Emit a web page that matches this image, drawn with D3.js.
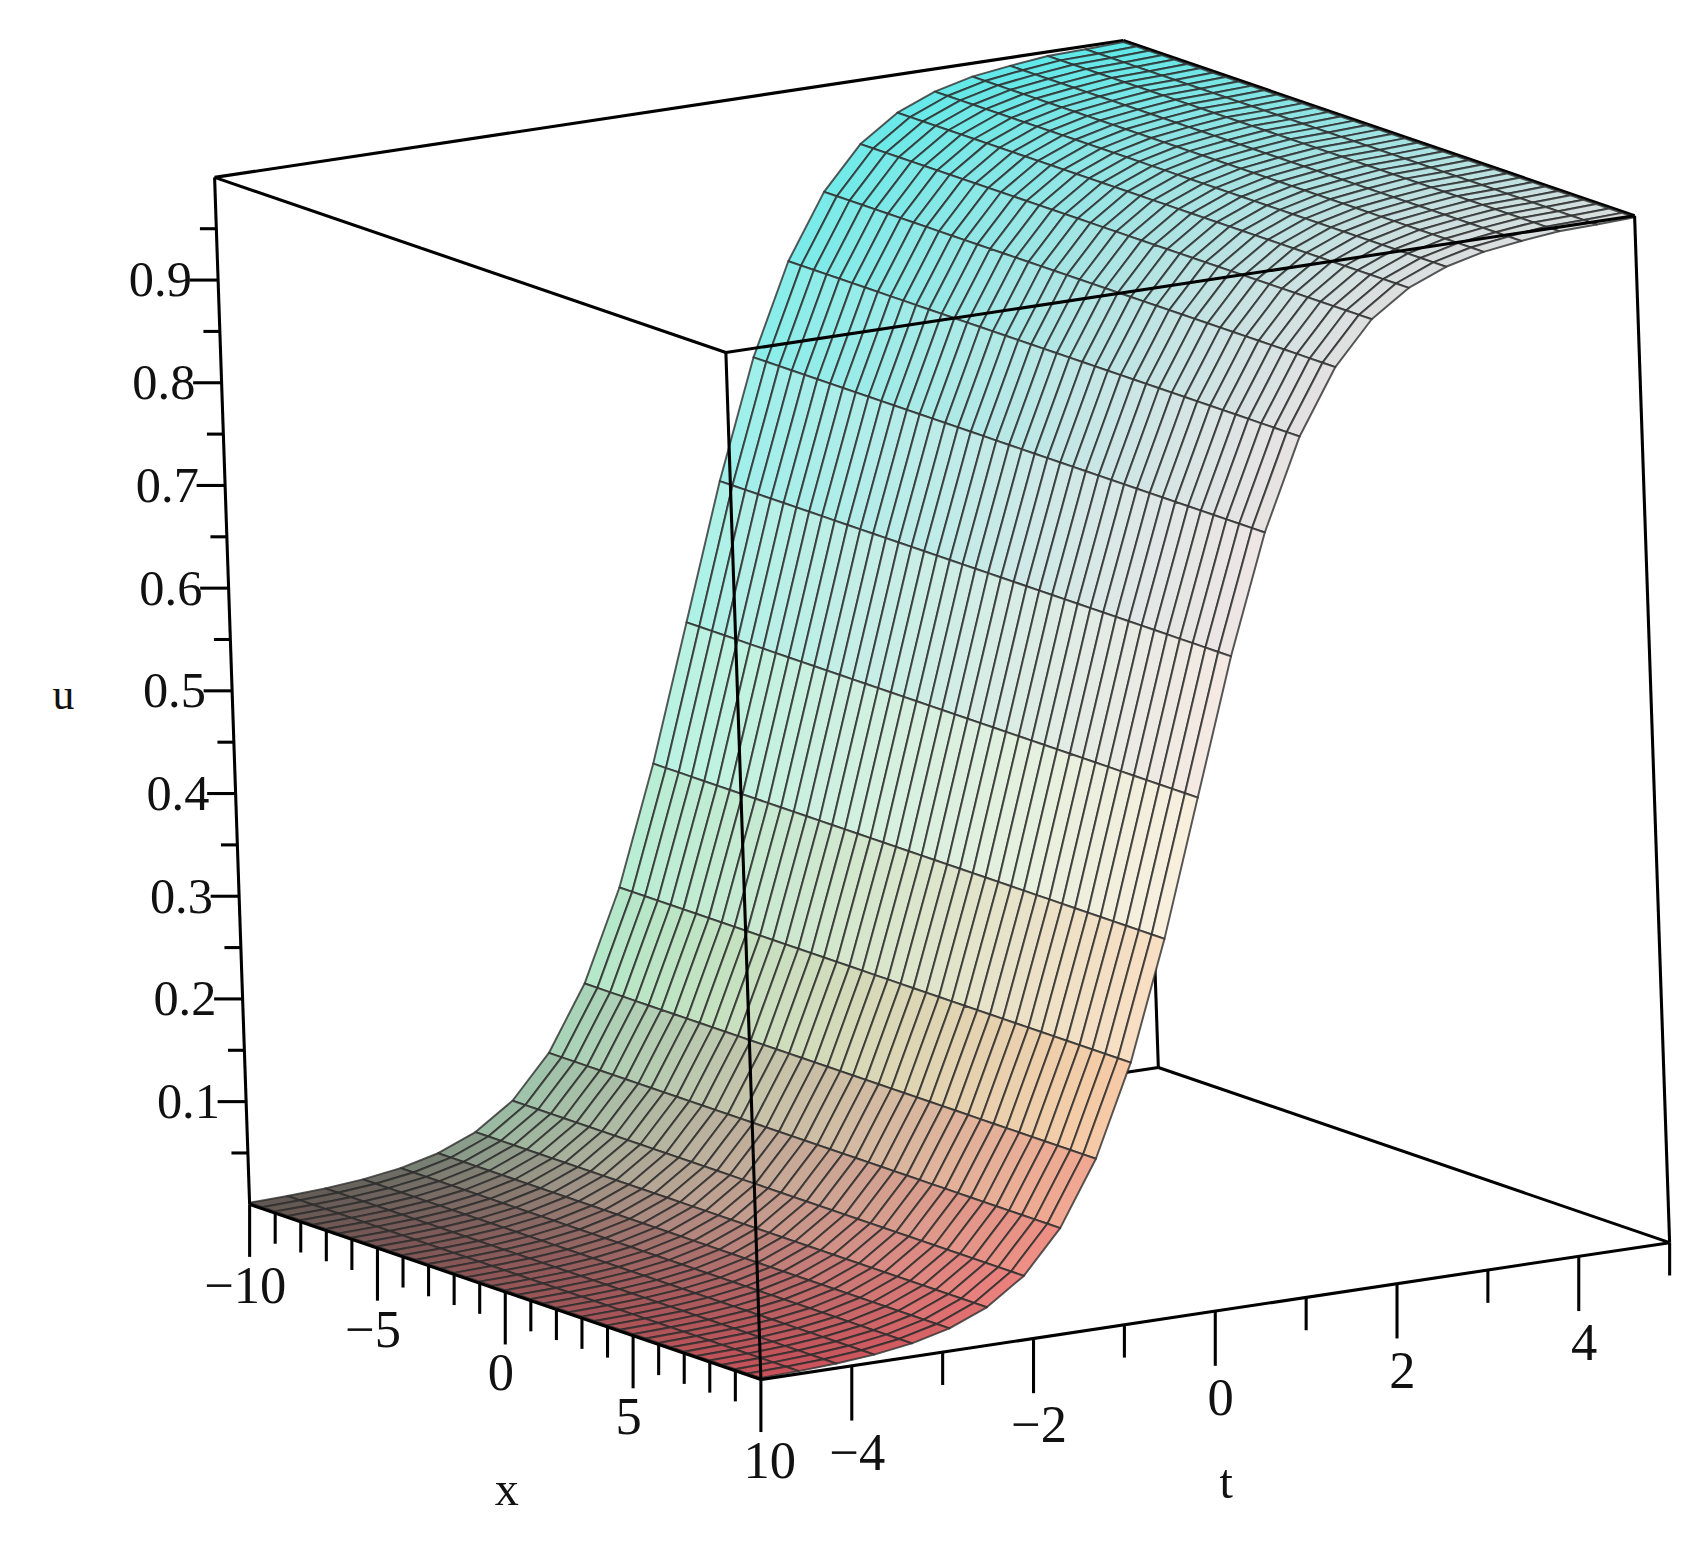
<!DOCTYPE html>
<html>
<head>
<meta charset="utf-8">
<script src="https://cdn.jsdelivr.net/npm/d3@7"></script>
<style>
  body { margin: 0; background: #fff; }
  text { font-family: "Liberation Serif", "DejaVu Serif", serif; fill: #111; }
</style>
</head>
<body>
<svg id="chart" width="1697" height="1544"></svg>
<script>
// Grid in x, levels in t, and u (u depends on t only).
var xRange = [-10, 10];
var xSteps = 40;
var tLevels = [-5, -4.583, -4.167, -3.75, -3.333, -2.917, -2.5, -2.083, -1.667, -1.25, -0.833, -0.417,
  0, 0.417, 0.833, 1.25, 1.667, 2.083, 2.5, 2.917, 3.333, 3.75, 4.167, 4.583, 5];
var uLevels = [0.0015, 0.0026, 0.0044, 0.0076, 0.013, 0.022, 0.037, 0.062, 0.103, 0.165, 0.253, 0.368,
  0.5, 0.632, 0.747, 0.835, 0.897, 0.938, 0.963, 0.978, 0.987, 0.992, 0.996, 0.997, 0.9985];

var uTicks = [0.1, 0.2, 0.3, 0.4, 0.5, 0.6, 0.7, 0.8, 0.9];
var uMinor = [0.05, 0.15, 0.25, 0.35, 0.45, 0.55, 0.65, 0.75, 0.85, 0.95];
var xTicks = [-10, -5, 0, 5, 10];
var tTicks = [-4, -2, 0, 2, 4];

var s = 1697 / 1550;
var svg = d3.select('#chart');
var g = svg.append('g').attr('transform', 'scale(' + s + ')');

// Linear scales for each axis, combined into an oblique projection.
var front = [695, 1260];
var sx = d3.scaleLinear().domain([10, -10]).range([0, 1]);
var st = d3.scaleLinear().domain([-5, 5]).range([0, 1]);
var su = d3.scaleLinear().domain([0, 1]).range([0, 1]);
var ex = [-467, -160], et = [830, -125], eu = [-32, -938];

function proj(x, t, u) {
  var a = sx(x), b = st(t), c = su(u);
  return [front[0] + a * ex[0] + b * et[0] + c * eu[0],
          front[1] + a * ex[1] + b * et[1] + c * eu[1]];
}

// Colour by position across x and height u.
function band(a, b) {
  return d3.scaleLinear().domain([-10, 10]).range([a, b]).interpolate(d3.interpolateRgb);
}
var bands = [
  band('#5e5450', '#c85058'),
  band('#98b8a0', '#ea7a78'),
  band('#b4e8c8', '#f8c8a4'),
  band('#bcf2e0', '#faf0dc'),
  band('#a6f0ea', '#f2e6e6'),
  band('#5ee8e8', '#dcdede')
];
var bandStops = [0, 0.04, 0.2, 0.4, 0.65, 1];
function colour(x, u) {
  var stops = bands.map(function(b) { return b(x); });
  return d3.scaleLinear().domain(bandStops).range(stops).interpolate(d3.interpolateRgb)(u);
}

var line = function(p, q) { return 'M' + p[0] + ',' + p[1] + 'L' + q[0] + ',' + q[1]; };

// Back box edges first.
var backEdges = [
  [proj(-10, 5, 0), proj(-10, 5, 1)],
  [proj(-10, 5, 0), proj(-10, -5, 0)],
  [proj(-10, 5, 0), proj(10, 5, 0)],
  [proj(-10, 5, 1), proj(-10, -5, 1)],
  [proj(-10, 5, 1), proj(10, 5, 1)]
];
g.selectAll('.back').data(backEdges).enter().append('path')
  .attr('d', function(d) { return line(d[0], d[1]); })
  .attr('stroke', '#000').attr('stroke-width', 2.8).attr('fill', 'none');

// Surface quads, far to near.
var quads = [];
var xs = d3.range(xSteps + 1).map(function(i) { return xRange[0] + i * (xRange[1] - xRange[0]) / xSteps; });
for (var j = 0; j < tLevels.length - 1; j++) {
  for (var i = 0; i < xSteps; i++) {
    quads.push({
      x0: xs[i], x1: xs[i + 1], j: j,
      depth: sx(xs[i] + 0.25) + st(tLevels[j])
    });
  }
}
quads.sort(function(a, b) { return b.depth - a.depth; });

g.selectAll('.quad').data(quads).enter().append('path')
  .attr('d', function(d) {
    var t0 = tLevels[d.j], t1 = tLevels[d.j + 1], u0 = uLevels[d.j], u1 = uLevels[d.j + 1];
    var pts = [proj(d.x0, t0, u0), proj(d.x1, t0, u0), proj(d.x1, t1, u1), proj(d.x0, t1, u1)];
    return 'M' + pts.join('L') + 'Z';
  })
  .attr('fill', function(d) {
    return colour((d.x0 + d.x1) / 2, (uLevels[d.j] + uLevels[d.j + 1]) / 2);
  })
  .attr('stroke', 'rgba(45,45,45,0.8)')
  .attr('stroke-width', 1.8)
  .attr('stroke-linejoin', 'round');

// Front box edges.
var frontEdges = [
  [proj(10, -5, 0), proj(10, -5, 1)],
  [proj(-10, -5, 0), proj(-10, -5, 1)],
  [proj(10, 5, 0), proj(10, 5, 1)],
  [proj(10, -5, 1), proj(-10, -5, 1)],
  [proj(10, -5, 1), proj(10, 5, 1)],
  [proj(-10, -5, 0), proj(10, -5, 0)],
  [proj(10, -5, 0), proj(10, 5, 0)]
];
g.selectAll('.front').data(frontEdges).enter().append('path')
  .attr('d', function(d) { return line(d[0], d[1]); })
  .attr('stroke', '#000').attr('stroke-width', 2.8).attr('fill', 'none');

// u axis ticks on the left vertical edge.
var tickPath = function(p, dx, dy) { return line(p, [p[0] + dx, p[1] + dy]); };
g.selectAll('.utick').data(uTicks).enter().append('path')
  .attr('d', function(d) { return tickPath(proj(-10, -5, d), -26, 0); })
  .attr('stroke', '#000').attr('stroke-width', 2.8);
g.selectAll('.uminor').data(uMinor).enter().append('path')
  .attr('d', function(d) { return tickPath(proj(-10, -5, d), -15, 0); })
  .attr('stroke', '#000').attr('stroke-width', 2.8);
g.selectAll('.ulab').data(uTicks).enter().append('text')
  .attr('x', function(d) { return proj(-10, -5, d)[0] - 24; })
  .attr('y', function(d) { return proj(-10, -5, d)[1] + 15; })
  .attr('text-anchor', 'end').attr('font-size', 46)
  .text(function(d) { return d3.format('.1f')(d); });

// x axis ticks.
g.selectAll('.xtick').data(d3.range(-10, 11)).enter().append('path')
  .attr('d', function(d) { return tickPath(proj(d, -5, 0), 0, d % 5 === 0 ? 48 : 28); })
  .attr('stroke', '#000').attr('stroke-width', 2.8);
g.selectAll('.xlab').data(xTicks).enter().append('text')
  .attr('x', function(d) { return proj(d, -5, 0)[0] + (d === 10 ? 8 : -4); })
  .attr('y', function(d) { return proj(d, -5, 0)[1] + 90; })
  .attr('text-anchor', 'middle').attr('font-size', 48)
  .text(function(d) { return d3.format('')(d).replace('-', '\u2212'); });

// t axis ticks.
g.selectAll('.ttick').data(d3.range(-4, 6)).enter().append('path')
  .attr('d', function(d) { return tickPath(proj(10, d, 0), 0, d % 2 === 0 ? 50 : 30); })
  .attr('stroke', '#000').attr('stroke-width', 2.8);
g.selectAll('.tlab').data(tTicks).enter().append('text')
  .attr('x', function(d) { return proj(10, d, 0)[0] + 5; })
  .attr('y', function(d) { return proj(10, d, 0)[1] + 95; })
  .attr('text-anchor', 'middle').attr('font-size', 48)
  .text(function(d) { return d3.format('')(d).replace('-', '\u2212'); });

// Axis names.
g.append('text').attr('x', 463).attr('y', 1375).attr('text-anchor', 'middle').attr('font-size', 44).text('x');
g.append('text').attr('x', 1120).attr('y', 1368).attr('text-anchor', 'middle').attr('font-size', 44).text('t');
g.append('text').attr('x', 58).attr('y', 648).attr('text-anchor', 'middle').attr('font-size', 40).text('u');
</script>
</body>
</html>
